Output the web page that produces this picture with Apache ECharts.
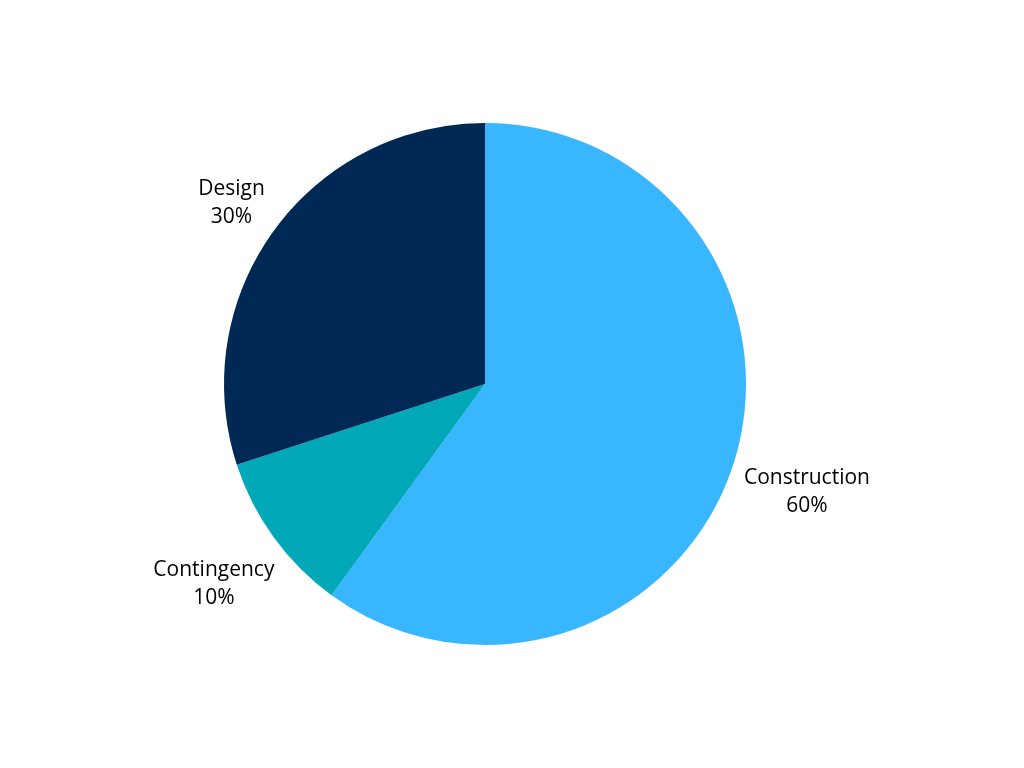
<!DOCTYPE html>
<html>
<head>
<meta charset="utf-8">
<script src="https://cdn.jsdelivr.net/npm/echarts@6/dist/echarts.min.js"></script>
<style>
html,body{margin:0;padding:0;background:#fff;}
#chart{width:1024px;height:768px;}
</style>
</head>
<body>
<div id="chart"></div>
<script>
const categories = ['Construction', 'Contingency', 'Design'];
const values = [60, 10, 30];
const colors = ['#38b6ff', '#00a8b8', '#002855'];

const chart = echarts.init(document.getElementById('chart'), null, {renderer: 'canvas'});
const CENTER = [485, 384];
const RADIUS = 261;
const GAP = 9;
const TEXT_SHIFT_Y = 3;
const total = values.reduce((a, b) => a + b, 0);

function midAngle(i) {
  let before = 0;
  for (let k = 0; k < i; k++) before += values[k];
  const frac = (before + values[i] / 2) / total;
  // clockwise from top
  return frac * Math.PI * 2;
}

chart.setOption({
  backgroundColor: '#ffffff',
  animation: false,
  series: [{
    type: 'pie',
    center: CENTER,
    radius: RADIUS,
    startAngle: 90,
    clockwise: true,
    data: categories.map((c, i) => ({name: c, value: values[i], itemStyle: {color: colors[i]}})),
    label: {
      show: true,
      position: 'outside',
      formatter: '{b}\n{d}%',
      color: '#000000',
      fontFamily: 'Open Sans',
      fontSize: 21,
      lineHeight: 28,
      align: 'center'
    },
    labelLine: {show: false},
    labelLayout: function (params) {
      const a = midAngle(params.dataIndex);
      const ux = Math.sin(a), uy = -Math.cos(a);
      const w = params.labelRect.width, h = params.labelRect.height;
      const R = RADIUS + GAP;
      const b = Math.abs(ux) * w / 2 + Math.abs(uy) * h / 2;
      const d = b + Math.sqrt(b * b - (w * w + h * h) / 4 + R * R);
      return {
        x: CENTER[0] + d * ux,
        y: CENTER[1] + d * uy + TEXT_SHIFT_Y,
        align: 'center',
        verticalAlign: 'middle'
      };
    },
    emphasis: {disabled: true}
  }]
});
</script>
</body>
</html>
